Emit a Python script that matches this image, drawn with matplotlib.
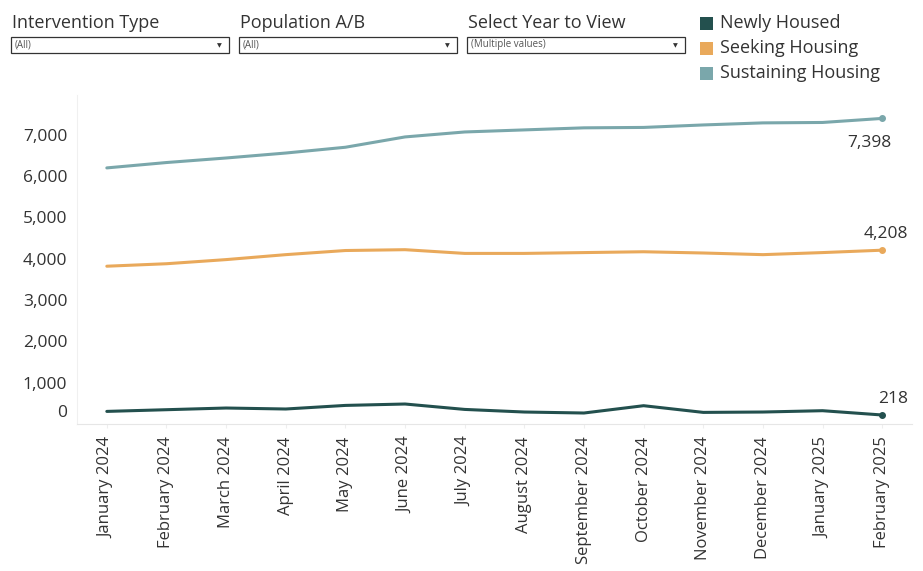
import matplotlib
matplotlib.use("Agg")
import matplotlib.pyplot as plt
from matplotlib.patches import Rectangle
from matplotlib.transforms import ScaledTranslation

plt.rcParams['font.family'] = ['Open Sans', 'DejaVu Sans']

months = ["January 2024", "February 2024", "March 2024", "April 2024", "May 2024",
          "June 2024", "July 2024", "August 2024", "September 2024", "October 2024",
          "November 2024", "December 2024", "January 2025", "February 2025"]
newly_housed = [305, 346, 387, 363, 450, 484, 353, 290, 266, 443, 281, 290, 322, 218]
seeking_housing = [3820, 3880, 3980, 4100, 4200, 4220, 4130, 4130, 4150, 4170, 4140, 4100, 4150, 4208]
sustaining_housing = [6200, 6330, 6440, 6560, 6700, 6950, 7070, 7120, 7170, 7180, 7240, 7290, 7300, 7398]
series_names = ["Newly Housed", "Seeking Housing", "Sustaining Housing"]
colors = ["#23504e", "#e9a95b", "#7aa7ab"]
y_ticks = [0, 1000, 2000, 3000, 4000, 5000, 6000, 7000]
filters = [("Intervention Type", "(All)"), ("Population A/B", "(All)"),
           ("Select Year to View", "(Multiple values)")]

W, H = 923, 571
fig = plt.figure(figsize=(W / 100, H / 100), dpi=100)

def fx(px):
    return px / W

def fy(py):
    return 1 - py / H

# main axes: left 77, right 912, top 95, bottom 424 (pixels)
ax = fig.add_axes([fx(77), fy(424), fx(912) - fx(77), (424 - 95) / H])
x = list(range(len(months)))
for vals, c in zip([newly_housed, seeking_housing, sustaining_housing], colors):
    ax.plot(x, vals, color=c, lw=2.2, solid_capstyle='round', solid_joinstyle='round')
    ax.plot(x[-1], vals[-1], 'o', color=c, ms=4)

ax.set_xlim(-0.5, 13.5)
ax.set_ylim(0, 7965)
ax.set_yticks(y_ticks)
ax.set_yticklabels([f"{v:,}" for v in y_ticks], fontsize=12.5, color="#333333")
ax.set_xticks(x)
ax.set_xticklabels(months, rotation=90, fontsize=12, color="#333333")
ax.tick_params(axis='y', length=0, pad=7)
ax.tick_params(axis='x', length=3, color="#eeeeee", pad=6)
# 0 label is pushed up as in the original
lbl0 = ax.get_yticklabels()[0]
lbl0.set_transform(lbl0.get_transform() + ScaledTranslation(0, 13 / 100, fig.dpi_scale_trans))

for s in ['top', 'right']:
    ax.spines[s].set_visible(False)
ax.spines['left'].set_color("#f0f0f0")
ax.spines['bottom'].set_color("#e6e6e6")

ax.annotate(f"{sustaining_housing[-1]:,}", (x[-1], sustaining_housing[-1]), xytext=(7, -12),
            textcoords='offset points', ha='right', va='top', fontsize=12.5, color="#333333")
ax.annotate(f"{seeking_housing[-1]:,}", (x[-1], seeking_housing[-1]), xytext=(-13, 6),
            textcoords='offset points', ha='left', va='bottom', fontsize=12.5, color="#333333")
ax.annotate(f"{newly_housed[-1]:,}", (x[-1], newly_housed[-1]), xytext=(-3, 6),
            textcoords='offset points', ha='left', va='bottom', fontsize=12.5, color="#333333")

# filter controls
for i, (title, value) in enumerate(filters):
    left = 11 + i * 228
    fig.text(fx(left + 1), fy(23), title, fontsize=13, color="#333333", va='center')
    fig.add_artist(Rectangle((fx(left), fy(53)), fx(218), 16 / H, transform=fig.transFigure,
                             fill=False, edgecolor="#333333", lw=0.9))
    fig.text(fx(left + 4), fy(45), value, fontsize=7, color="#555555", va='center')
    fig.text(fx(left + 208), fy(45.5), "\u25bc", fontsize=4.5, color="#333333",
             va='center', ha='center', family='DejaVu Sans')

# legend
for i, (name, c) in enumerate(zip(series_names, colors)):
    yc = 23 + i * 25
    fig.add_artist(Rectangle((fx(700), fy(yc + 7)), fx(13), 13 / H, transform=fig.transFigure,
                             color=c, lw=0))
    fig.text(fx(720), fy(yc), name, fontsize=13, color="#333333", va='center')

fig.savefig("out.png", dpi=100)
